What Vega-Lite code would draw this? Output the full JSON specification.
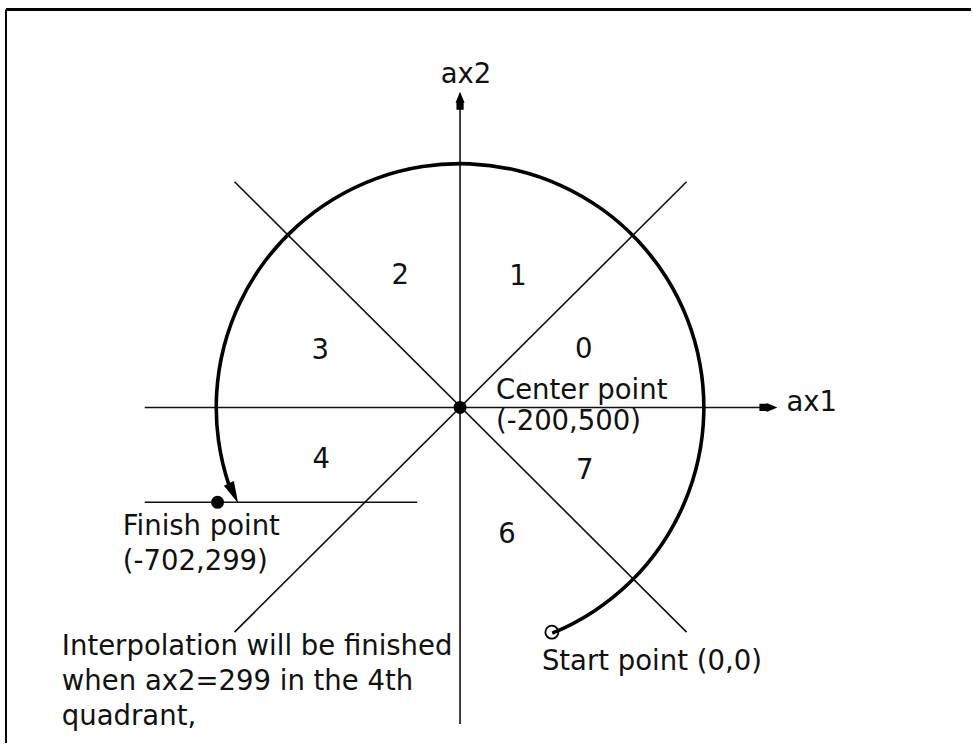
{
  "$schema": "https://vega.github.io/schema/vega-lite/v6.json",
  "width": 973,
  "height": 744,
  "autosize": {"type": "fit", "contains": "padding"},
  "padding": 0,
  "background": "#ffffff",
  "config": {"view": {"stroke": null}, "text": {"font": "DejaVu Sans", "fontSize": 27.5, "color": "#111111"}},
  "encoding": {
    "x": {"field": "x", "type": "quantitative", "scale": {"domain": [-461, 512], "nice": false, "zero": false}, "axis": null},
    "y": {"field": "y", "type": "quantitative", "scale": {"domain": [-336, 408], "nice": false, "zero": false}, "axis": null}
  },
  "layer": [
    {
      "data": {"values": [{"x": -455, "y": 398.5, "x2": 512, "y2": 398.5}]},
      "mark": {"type": "rule", "strokeWidth": 3, "color": "#000"},
      "encoding": {"x2": {"field": "x2"}, "y2": {"field": "y2"}}
    },
    {
      "data": {"values": [{"x": -455, "y": 398.5, "x2": -455, "y2": -336}]},
      "mark": {"type": "rule", "strokeWidth": 2, "color": "#000"},
      "encoding": {"x2": {"field": "x2"}, "y2": {"field": "y2"}}
    },
    {
      "data": {"values": [
        {"line": "ax2", "x": 0, "y": -317, "x2": 0, "y2": 300},
        {"line": "ax1", "x": -316, "y": 0, "x2": 302, "y2": 0},
        {"line": "diag NW-SE", "x": -226, "y": 226, "x2": 227, "y2": -225},
        {"line": "diag NE-SW", "x": 227, "y": 226, "x2": -226, "y2": -225},
        {"line": "finish ax2=299", "x": -316, "y": -95, "x2": -43, "y2": -95}
      ]},
      "mark": {"type": "rule", "strokeWidth": 1.6, "color": "#111"},
      "encoding": {"x2": {"field": "x2"}, "y2": {"field": "y2"}}
    },
    {
      "data": {"values": [{"x": 0, "y": 0, "t0": -1.9, "t1": 2.754}]},
      "mark": {"type": "arc", "innerRadius": 242, "outerRadius": 245.6, "color": "#000"},
      "encoding": {
        "theta": {"field": "t0", "type": "quantitative", "scale": null, "stack": null},
        "theta2": {"field": "t1"}
      }
    },
    {
      "data": {"values": [{"name": "center", "x": 0, "y": 0}, {"name": "finish", "x": -243, "y": -95}]},
      "mark": {"type": "point", "shape": "circle", "filled": true, "size": 169, "color": "#000", "opacity": 1}
    },
    {
      "data": {"values": [{"name": "start", "x": 92, "y": -225}]},
      "mark": {"type": "point", "shape": "circle", "filled": false, "size": 169, "strokeWidth": 1.8, "color": "#000", "opacity": 1}
    },
    {
      "data": {"values": [{"name": "ax2 arrow", "x": 0, "y": 307}]},
      "mark": {"type": "point", "shape": "M0,-1L0.5,0.2L0.4,0.2L0.4,1L-0.4,1L-0.4,0.2L-0.5,0.2Z", "filled": true, "size": 324, "color": "#000", "opacity": 1, "angle": 0}
    },
    {
      "data": {"values": [{"name": "ax1 arrow", "x": 309, "y": 0}]},
      "mark": {"type": "point", "shape": "M0,-1L0.5,0.2L0.4,0.2L0.4,1L-0.4,1L-0.4,0.2L-0.5,0.2Z", "filled": true, "size": 324, "color": "#000", "opacity": 1, "angle": 90}
    },
    {
      "data": {"values": [{"name": "arc arrow", "x": -227, "y": -86}]},
      "mark": {"type": "point", "shape": "M-0.5,-1L0.5,-1L0,1Z", "filled": true, "size": 484, "color": "#000", "opacity": 1, "angle": 335}
    },
    {
      "data": {"values": [
        {"label": "ax2", "x": 6, "y": 333},
        {"label": "0", "x": 124, "y": 58},
        {"label": "1", "x": 58, "y": 131},
        {"label": "2", "x": -60, "y": 132},
        {"label": "3", "x": -140, "y": 57},
        {"label": "4", "x": -139, "y": -53},
        {"label": "7", "x": 125, "y": -64},
        {"label": "6", "x": 47, "y": -128}
      ]},
      "mark": {"type": "text", "align": "center", "baseline": "middle"},
      "encoding": {"text": {"field": "label"}}
    },
    {
      "data": {"values": [
        {"label": "ax1", "x": 327, "y": 4},
        {"label": "Center point", "x": 36, "y": 16},
        {"label": "(-200,500)", "x": 36, "y": -15},
        {"label": "Finish point", "x": -338, "y": -120},
        {"label": "(-702,299)", "x": -338, "y": -155},
        {"label": "Interpolation will be finished", "x": -399, "y": -240},
        {"label": "when ax2=299 in the 4th", "x": -399, "y": -275},
        {"label": "quadrant,", "x": -399, "y": -310},
        {"label": "Start point (0,0)", "x": 82, "y": -255}
      ]},
      "mark": {"type": "text", "align": "left", "baseline": "middle"},
      "encoding": {"text": {"field": "label"}}
    }
  ]
}
